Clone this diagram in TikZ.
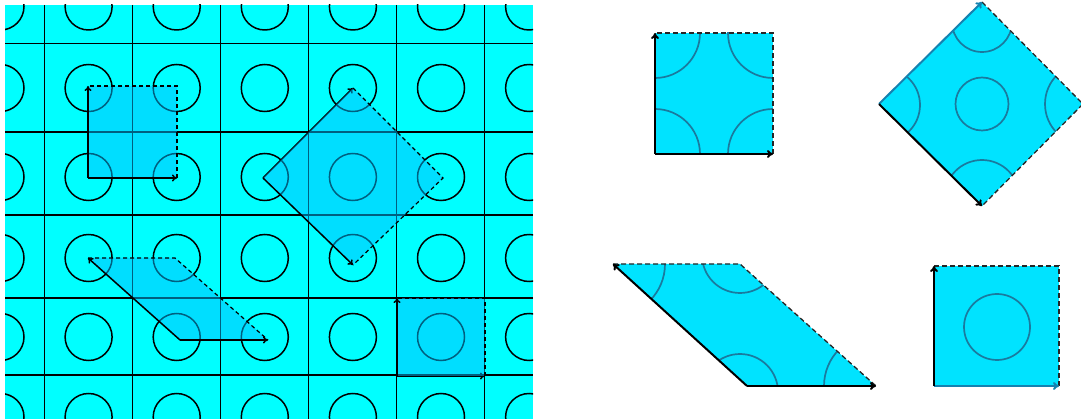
\documentclass[tikz,border=0pt]{standalone}
\usetikzlibrary{arrows.meta}
\definecolor{latticefill}{HTML}{00FFFF}
\definecolor{overlayblue}{HTML}{00BFFF}
\definecolor{cellfill}{HTML}{00E3FF}
\definecolor{cellringcolor}{HTML}{1A7A9E}
\definecolor{hiddenvec}{HTML}{1582B0}
\definecolor{dashcolor}{HTML}{262626}
\tikzset{
  gridline/.style={draw=black, line width=1.2pt},
  ring/.style={draw=black, line width=1.5pt},
  cellring/.style={draw=cellringcolor, line width=1.7pt},
  overlay/.style={fill=overlayblue, fill opacity=0.5},
  vec/.style={-{To[length=5pt,width=7pt]}, draw=black, line width=1.5pt},
  bigvec/.style={-{To[length=6pt,width=8pt]}, draw=black, line width=2pt},
  hidvec/.style={bigvec, draw=hiddenvec},
  edgedash/.style={draw=black, line width=1.2pt, dash pattern=on 4pt off 3pt},
  bigdash/.style={draw=dashcolor, line width=1.3pt, dash pattern=on 5pt off 3pt},
}

\begin{document}
\begin{tikzpicture}[x=1pt,y=-1pt]
  \useasboundingbox (0,0) rectangle (1081,419);

  % lattice
  \begin{scope}
    \clip (5,5) rectangle (533,419);
    \fill[latticefill] (5,5) rectangle (533,419);
    \foreach \gx in {44.5,132.5,220.5,308.5,396.5,484.5}
      \draw[gridline] (\gx,5) -- (\gx,419);
    \foreach \gy in {43.5,132,215,298,375}
      \draw[gridline] (5,\gy) -- (533,\gy);
    \foreach \cy in {6.5,88,177,258,337,417}
      \foreach \cx in {0.5,88.6,176.7,264.8,352.9,441,529.1}
        \draw[ring] (\cx,\cy) circle[radius=23.5pt];
  \end{scope}

  % cells on the lattice
  \coordinate (sqA0) at (88,178);
  \coordinate (sqA1) at (177,178);
  \coordinate (sqA2) at (177,86);
  \coordinate (sqA3) at (88,86);
  \fill[overlay] (sqA0) -- (sqA1) -- (sqA2) -- (sqA3) -- cycle;
  \draw[edgedash] (sqA1) -- (sqA2) -- (sqA3);
  \draw[vec] (sqA0) -- (sqA1);
  \draw[vec] (sqA0) -- (sqA3);

  \coordinate (rhL) at (263,178);
  \coordinate (rhT) at (353,88);
  \coordinate (rhR) at (443,178);
  \coordinate (rhB) at (353,265);
  \draw[vec] (rhL) -- (rhT);
  \fill[overlay] (rhL) -- (rhT) -- (rhR) -- (rhB) -- cycle;
  \draw[edgedash] (rhT) -- (rhR) -- (rhB);
  \draw[vec] (rhL) -- (rhB);

  \coordinate (plTL) at (88,258);
  \coordinate (plTR) at (175,258);
  \coordinate (plBR) at (268,340);
  \coordinate (plBL) at (180,340);
  \fill[overlay] (plBL) -- (plBR) -- (plTR) -- (plTL) -- cycle;
  \draw[edgedash] (plTL) -- (plTR) -- (plBR);
  \draw[vec] (plBL) -- (plTL);
  \draw[vec] (plBL) -- (plBR);

  \coordinate (sqD0) at (397,376);
  \coordinate (sqD1) at (485,376);
  \coordinate (sqD2) at (485,298);
  \coordinate (sqD3) at (397,298);
  \draw[vec] (sqD0) -- (sqD1);
  \fill[overlay] (sqD0) -- (sqD1) -- (sqD2) -- (sqD3) -- cycle;
  \draw[edgedash] (sqD1) -- (sqD2) -- (sqD3);
  \draw[vec] (sqD0) -- (sqD3);

  % extracted cells
  \coordinate (cA0) at (655,154);
  \coordinate (cA1) at (773,154);
  \coordinate (cA2) at (773,33);
  \coordinate (cA3) at (655,33);
  \begin{scope}
    \clip (cA0) -- (cA1) -- (cA2) -- (cA3) -- cycle;
    \fill[cellfill] (cA0) -- (cA1) -- (cA2) -- (cA3) -- cycle;
    \foreach \corner in {cA0,cA1,cA2,cA3}
      \draw[cellring] (\corner) circle[radius=45pt];
  \end{scope}
  \draw[bigdash] (cA1) -- (cA2) -- (cA3);
  \draw[bigvec] (cA0) -- (cA1);
  \draw[bigvec] (cA0) -- (cA3);

  \coordinate (cBL) at (879,104);
  \coordinate (cBT) at (982,2);
  \coordinate (cBR) at (1083,104);
  \coordinate (cBB) at (982,206);
  \begin{scope}
    \clip (cBL) -- (cBT) -- (cBR) -- (cBB) -- cycle;
    \fill[cellfill] (cBL) -- (cBT) -- (cBR) -- (cBB) -- cycle;
    \draw[cellring] (982,104) circle[radius=26.5pt];
    \draw[cellring] (982,22) circle[radius=30pt];
    \draw[cellring] (883,105) circle[radius=37pt];
    \draw[cellring] (1086,104) circle[radius=41pt];
    \draw[cellring] (982,197.5) circle[radius=37.5pt];
  \end{scope}
  \draw[bigdash] (cBT) -- (cBR) -- (cBB);
  \draw[hidvec] (cBL) -- (cBT);
  \draw[bigvec] (cBL) -- (cBB);

  \coordinate (cCTL) at (613,264);
  \coordinate (cCTR) at (740,264);
  \coordinate (cCBR) at (876,386);
  \coordinate (cCBL) at (747,386);
  \begin{scope}
    \clip (cCBL) -- (cCBR) -- (cCTR) -- (cCTL) -- cycle;
    \fill[cellfill] (cCBL) -- (cCBR) -- (cCTR) -- (cCTL) -- cycle;
    \draw[cellring] (cCTL) circle[radius=52pt];
    \draw[cellring] (740,255) circle[radius=38pt];
    \draw[cellring] (740,392) circle[radius=38pt];
    \draw[cellring] (cCBR) circle[radius=52pt];
  \end{scope}
  \draw[bigdash] (cCTL) -- (cCTR) -- (cCBR);
  \draw[bigvec] (cCBL) -- (cCTL);
  \draw[bigvec] (cCBL) -- (cCBR);

  \coordinate (cD0) at (934,386);
  \coordinate (cD1) at (1059,386);
  \coordinate (cD2) at (1059,266);
  \coordinate (cD3) at (934,266);
  \begin{scope}
    \clip (cD0) -- (cD1) -- (cD2) -- (cD3) -- cycle;
    \fill[cellfill] (cD0) -- (cD1) -- (cD2) -- (cD3) -- cycle;
    \draw[cellring] (997,327) circle[radius=33pt];
  \end{scope}
  \draw[bigdash] (cD1) -- (cD2) -- (cD3);
  \draw[hidvec] (cD0) -- (cD1);
  \draw[bigvec] (cD0) -- (cD3);
\end{tikzpicture}
\end{document}
